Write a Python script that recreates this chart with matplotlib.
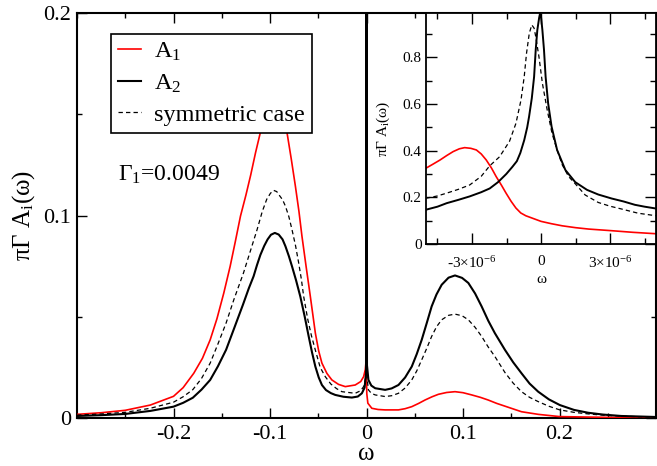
import numpy as np
import matplotlib
matplotlib.use('Agg')
import matplotlib.pyplot as plt
from matplotlib.ticker import MultipleLocator

plt.rcParams['font.family'] = 'Liberation Serif'
plt.rcParams['mathtext.fontset'] = 'custom'
plt.rcParams['mathtext.rm'] = 'Liberation Serif'
plt.rcParams['mathtext.it'] = 'Liberation Serif:italic'

# spectral functions, full frequency range
w_a1 = [-0.300, -0.275, -0.250, -0.224, -0.200, -0.190, -0.179, -0.170, -0.162, -0.155,
        -0.1479, -0.1413, -0.136, -0.1306, -0.125, -0.120, -0.115, -0.110, -0.104, -0.097,
        -0.090, -0.0824, -0.078, -0.0737, -0.070, -0.0669, -0.0625, -0.0582, -0.053,
        -0.0495, -0.0462, -0.041, -0.0359, -0.029, -0.022, -0.0117, -0.006, -0.003,
        -0.0012, -0.0003, 0.0003, 0.0014, 0.0055, 0.012, 0.0193, 0.0331, 0.040, 0.0469,
        0.054, 0.0607, 0.068, 0.0745, 0.083, 0.0917, 0.100, 0.109, 0.118, 0.126, 0.135,
        0.145, 0.1606, 0.178, 0.200, 0.250, 0.300]
a1 = [0.0018, 0.0026, 0.0038, 0.0064, 0.0107, 0.0150, 0.0221, 0.0295, 0.0386, 0.0490,
      0.0617, 0.0749, 0.0870, 0.0997, 0.110, 0.120, 0.131, 0.141, 0.150, 0.155,
      0.150, 0.141, 0.128, 0.1145, 0.102, 0.0898, 0.0745, 0.0600, 0.0419,
      0.0330, 0.0271, 0.0220, 0.0188, 0.0166, 0.0155, 0.0163, 0.0180, 0.0204,
      0.024, 0.029, 0.012, 0.0073, 0.0048, 0.0042, 0.0040, 0.0040, 0.0046, 0.0056,
      0.0072, 0.0089, 0.0105, 0.0117, 0.0126, 0.0130, 0.0125, 0.0114, 0.0102, 0.0089, 0.0072,
      0.0056, 0.0031, 0.0018, 0.0007, 0.0003, 0.0002]

w_a2 = [-0.300, -0.275, -0.250, -0.224, -0.200, -0.190, -0.180, -0.171, -0.162, -0.154,
        -0.1455, -0.137, -0.128, -0.122, -0.117, -0.1135, -0.110, -0.106, -0.1025, -0.099,
        -0.095, -0.091, -0.087, -0.084, -0.0805, -0.0772, -0.073, -0.0686, -0.064, -0.060,
        -0.0565, -0.053, -0.0495, -0.0462, -0.042, -0.037, -0.0324, -0.024, -0.0152,
        -0.009, -0.0048, -0.0020, -0.0005, 0.0, 0.0005, 0.002, 0.005, 0.009, 0.0193,
        0.026, 0.0331, 0.040, 0.0469, 0.052, 0.0572, 0.0625, 0.0675, 0.0725, 0.0779,
        0.085, 0.0917, 0.099, 0.1055, 0.1125, 0.1193, 0.1262, 0.133, 0.1434, 0.152,
        0.1606, 0.169, 0.1779, 0.189, 0.2003, 0.215, 0.2296, 0.245, 0.264, 0.300]
a2 = [0.0010, 0.0014, 0.0020, 0.0035, 0.0056, 0.0075, 0.0100, 0.0140, 0.0188, 0.0255,
      0.0337, 0.0445, 0.0560, 0.0640, 0.0700, 0.0755, 0.0805, 0.0850, 0.0882, 0.0905,
      0.0914, 0.0906, 0.0882, 0.0848, 0.0800, 0.0749, 0.0680, 0.0600, 0.0500, 0.0405,
      0.0325, 0.0254, 0.0200, 0.0163, 0.0138, 0.0123, 0.0114, 0.0105, 0.0101,
      0.0106, 0.0122, 0.0150, 0.022, 0.98, 0.026, 0.0188, 0.0160, 0.0147, 0.0139,
      0.0146, 0.0163, 0.0200, 0.0254, 0.0315, 0.0386, 0.0470, 0.0551, 0.0610, 0.0658,
      0.0693, 0.0704, 0.0692, 0.0667, 0.0615, 0.0551, 0.0480, 0.0419, 0.0337, 0.0275,
      0.0221, 0.0170, 0.0130, 0.0092, 0.0064, 0.0040, 0.0026, 0.0017, 0.0010, 0.0005]

w_sym = [-0.300, -0.275, -0.250, -0.224, -0.200, -0.190, -0.180, -0.171, -0.162, -0.154,
         -0.1455, -0.1375, -0.1275, -0.120, -0.1134, -0.108, -0.1034, -0.0995, -0.0962,
         -0.093, -0.091, -0.087, -0.084, -0.0805, -0.0772, -0.0735, -0.0703, -0.0675,
         -0.0651, -0.061, -0.057, -0.053, -0.048, -0.0427, -0.037, -0.031, -0.0255,
         -0.0117, -0.006, -0.003, -0.0008, 0.0, 0.0005, 0.002, 0.005, 0.009, 0.0193,
         0.026, 0.0331, 0.040, 0.0469, 0.052, 0.0572, 0.0625, 0.0675, 0.0725, 0.0779,
         0.085, 0.0917, 0.099, 0.1055, 0.1125, 0.1193, 0.1262, 0.133, 0.1434, 0.152,
         0.1606, 0.169, 0.1779, 0.189, 0.2003, 0.215, 0.230, 0.245, 0.264, 0.300]
sym = [0.0014, 0.0020, 0.0028, 0.0048, 0.0078, 0.0105, 0.0140, 0.0195, 0.0271, 0.0365,
       0.0469, 0.0584, 0.0716, 0.0830, 0.0930, 0.1020, 0.1080, 0.1110, 0.1124,
       0.1118, 0.1104, 0.1078, 0.1046, 0.0995, 0.0930, 0.0850, 0.0766, 0.0685,
       0.0600, 0.0490, 0.0405, 0.0335, 0.0250, 0.0204, 0.0168, 0.0145, 0.0130,
       0.0122, 0.0135, 0.0155, 0.020, 0.93, 0.020, 0.0139, 0.0122, 0.0114, 0.0106,
       0.0110, 0.0122, 0.0148, 0.0188, 0.0232, 0.0287, 0.0345, 0.0403, 0.0450, 0.0485,
       0.0507, 0.0513, 0.0505, 0.0485, 0.0448, 0.0403, 0.0350, 0.0304, 0.0225, 0.0172,
       0.0130, 0.0102, 0.0081, 0.0058, 0.0040, 0.0028, 0.0020, 0.0014, 0.0009, 0.0004]

# zoom around omega = 0, frequencies in units of 1e-6
wz_a1 = [-5.0, -4.7, -4.39, -4.1, -3.82, -3.55, -3.32, -3.05, -2.81, -2.6, -2.38, -2.15,
         -1.95, -1.72, -1.52, -1.3, -1.09, -0.88, -0.66, -0.33, 0.0, 0.45, 0.92, 1.5,
         2.07, 3.07, 4.0, 5.0]
az_a1 = [0.325, 0.342, 0.360, 0.379, 0.396, 0.408, 0.413, 0.410, 0.403, 0.386, 0.360, 0.325,
         0.289, 0.252, 0.218, 0.183, 0.154, 0.133, 0.121, 0.109, 0.097, 0.087, 0.078, 0.070,
         0.064, 0.057, 0.050, 0.044]

wz_a2 = [-5.0, -4.5, -4.1, -3.6, -3.1, -2.6, -2.23, -1.87, -1.51, -1.25, -1.05, -0.90,
         -0.73, -0.60, -0.52, -0.40, -0.30, -0.23, -0.16, -0.08, -0.04, 0.0, 0.06, 0.13,
         0.20, 0.31, 0.46, 0.70, 1.06, 1.49, 2.0, 2.49, 3.07, 3.6, 4.08, 4.5, 5.0]
az_a2 = [0.147, 0.160, 0.175, 0.189, 0.204, 0.222, 0.238, 0.265, 0.300, 0.330, 0.355, 0.390,
         0.445, 0.500, 0.545, 0.625, 0.717, 0.832, 0.917, 0.970, 0.989, 0.975, 0.917, 0.832,
         0.717, 0.603, 0.503, 0.403, 0.317, 0.265, 0.232, 0.212, 0.195, 0.182, 0.168, 0.160,
         0.152]

wz_sym = [-5.0, -4.5, -4.1, -3.6, -3.1, -2.6, -2.23, -1.8, -1.37, -1.09, -0.87, -0.73,
          -0.63, -0.51, -0.40, -0.30, -0.23, -0.09, 0.06, 0.27, 0.48, 0.70, 0.92, 1.2,
          1.49, 1.92, 2.49, 3.0, 3.5, 4.22, 5.0]
az_sym = [0.196, 0.206, 0.218, 0.234, 0.253, 0.290, 0.335, 0.374, 0.440, 0.517, 0.617, 0.717,
          0.817, 0.903, 0.939, 0.925, 0.889, 0.803, 0.689, 0.574, 0.474, 0.403, 0.340, 0.289,
          0.258, 0.210, 0.178, 0.162, 0.150, 0.132, 0.121]

main_xticks = [-0.2, -0.1, 0.0, 0.1, 0.2]
main_xlabels = ['-0.2', '-0.1', '0', '0.1', '0.2']
main_yticks = [0.0, 0.1, 0.2]
main_ylabels = ['0', '0.1', '0.2']
ins_xticks = [-3e-6, 0.0, 3e-6]
ins_xlabels = ['-3\u00d710$^{-6}$', '0', '3\u00d710$^{-6}$']
ins_yticks = [0.0, 0.2, 0.4, 0.6, 0.8]
ins_ylabels = ['0', '0.2', '0.4', '0.6', '0.8']

fig = plt.figure(figsize=(6.57, 4.66), dpi=100)
ax = fig.add_axes([0.1172, 0.1030, 0.8813, 0.8691])

ax.plot(w_a1, a1, color='red', lw=1.2, label='A$_\\mathrm{1}$', zorder=3)
ax.plot(w_sym, sym, color='black', lw=0.9, dashes=(3.5, 2.5), label='symmetric case', zorder=3)
ax.plot(w_a2, a2, color='black', lw=1.5, label='A$_\\mathrm{2}$', zorder=4)

ax.set_xlim(-0.3, 0.3)
ax.set_ylim(0, 0.2)
ax.set_xticks(main_xticks)
ax.set_xticklabels(main_xlabels)
ax.set_yticks(main_yticks)
ax.set_yticklabels(main_ylabels)
ax.xaxis.set_minor_locator(MultipleLocator(0.05))
ax.yaxis.set_minor_locator(MultipleLocator(0.05))
ax.tick_params(which='both', direction='in', top=True, right=True, width=1.0)
ax.tick_params(which='major', length=7, labelsize=16)
ax.tick_params(which='minor', length=3.5)
ax.tick_params(axis='x', pad=5)
ax.tick_params(axis='y', pad=4)
for s in ax.spines.values():
    s.set_linewidth(1.5)

ax.set_xlabel('\u03c9', fontsize=18)
ax.xaxis.label.set_va('baseline')
ax.xaxis.set_label_coords(0.5, -0.104)
ax.set_ylabel('\u03c0\u0393 A$_\\mathrm{i}$(\u03c9)', fontsize=18)
ax.yaxis.set_label_coords(-0.069, 0.5)

h, l = ax.get_legend_handles_labels()
order = [0, 2, 1]
leg = ax.legend([h[i] for i in order], [l[i] for i in order], loc='upper left',
                bbox_to_anchor=(110.7 / 657, 1 - 33.7 / 466), bbox_transform=fig.transFigure,
                borderaxespad=0, fontsize=17.5, frameon=True, fancybox=False,
                handlelength=0.95, handletextpad=0.55, labelspacing=0.37,
                borderpad=0.3)
leg.get_frame().set_edgecolor('black')
leg.get_frame().set_linewidth(1.2)
leg.get_frame().set_alpha(1)

fig.text(118 / 657, 1 - 181 / 466, '\u0393$_\\mathrm{1}$=0.0049', fontsize=17,
         va='baseline', ha='left')

# inset: fine structure near omega = 0
ins = fig.add_axes([0.6484, 0.4764, 0.3501, 0.4957])
ins.plot(np.array(wz_a1) * 1e-6, az_a1, color='red', lw=1.2)
ins.plot(np.array(wz_sym) * 1e-6, az_sym, color='black', lw=0.9, dashes=(3.5, 2.5))
ins.plot(np.array(wz_a2) * 1e-6, az_a2, color='black', lw=1.4)
ins.set_xlim(-5e-6, 5e-6)
ins.set_ylim(0, 0.99)
ins.set_xticks(ins_xticks)
ins.set_xticklabels(ins_xlabels)
ins.set_yticks(ins_yticks)
ins.set_yticklabels(ins_ylabels)
ins.xaxis.set_minor_locator(MultipleLocator(1.5e-6))
ins.yaxis.set_minor_locator(MultipleLocator(0.1))
ins.tick_params(which='both', direction='in', top=True, right=True, width=1.0)
ins.tick_params(which='major', length=8, labelsize=11)
ins.tick_params(which='minor', length=4)
ins.tick_params(axis='x', pad=8)
ins.tick_params(axis='y', pad=3)
for s in ins.spines.values():
    s.set_linewidth(1.3)
ins.set_xlabel('\u03c9', fontsize=11)
ins.xaxis.set_label_coords(0.5, -0.125)
ins.set_ylabel('\u03c0\u0393 A$_\\mathrm{i}$(\u03c9)', fontsize=11)
ins.yaxis.set_label_coords(-0.148, 0.5)

fig.savefig('out.png', dpi=100)
